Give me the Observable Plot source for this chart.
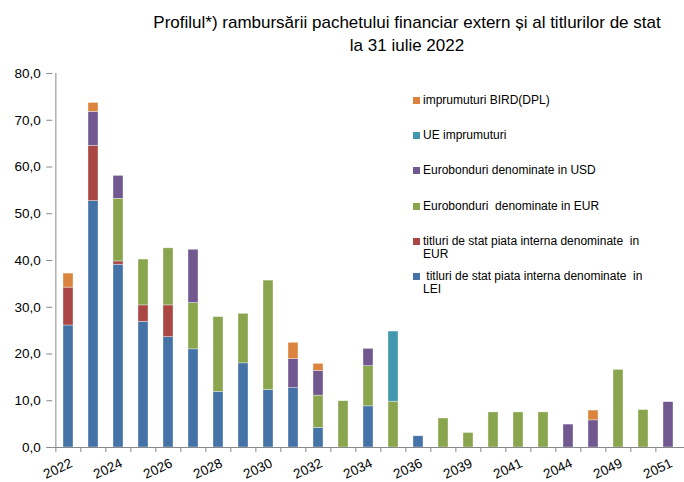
<!DOCTYPE html>
<html>
<head>
<meta charset="utf-8">
<script src="https://cdn.jsdelivr.net/npm/d3@7"></script>
<script src="https://cdn.jsdelivr.net/npm/@observablehq/plot@0.6"></script>
<style>
  body { margin: 0; background: #fff; font-family: "Liberation Sans", Arial, sans-serif; }
  #wrap { position: relative; width: 684px; height: 482px; overflow: hidden; }
  #title { position: absolute; left: 130px; width: 554px; top: 11px; text-align: center; font-size: 17px; line-height: 23px; color: #000; }
  #chart { position: absolute; left: 0; top: 60px; }
  #legend { position: absolute; left: 413px; top: 0; font-size: 12px; color: #000; }
  .item { position: absolute; left: 0; white-space: pre; line-height: 13px; }
  .sw { position: absolute; left: 0; top: 3px; width: 7px; height: 7px; }
  .lbl { position: absolute; left: 10px; top: 0; }
</style>
</head>
<body>
<div id="wrap">
  <div id="title">Profilul*) rambursării pachetului financiar extern și al titlurilor de stat<br>la 31 iulie 2022</div>
  <div id="chart"></div>
  <div id="legend"></div>
</div>
<script>
const years = ["2022","2023","2024","2025","2026","2027","2028","2029","2030","2031","2032","2033","2034","2035","2036","2038","2039","2040","2041","2042","2044","2048","2049","2050","2051"];
const labelYears = ["2022","2024","2026","2028","2030","2032","2034","2036","2039","2041","2044","2049","2051"];
const yTicks = [0,10,20,30,40,50,60,70,80];

const seriesNames = [
  " titluri de stat piata interna denominate  in\nLEI",
  "titluri de stat piata interna denominate  in\nEUR",
  "Eurobonduri  denominate in EUR",
  "Eurobonduri denominate in USD",
  "UE imprumuturi",
  "imprumuturi BIRD(DPL)"
];
const seriesColors = ["#4572A7","#AA4643","#89A54E","#71588F","#4198AF","#DB843D"];

const lei     = [26.1,52.7,39.1,26.9,23.6,21.0,11.9,18.0,12.3,12.7,4.2,0,8.8,0,2.4,0,0,0,0,0,0,0,0,0,0];
const eurDom  = [8.1,11.8,0.7,3.5,6.8,0,0,0,0,0,0,0,0,0,0,0,0,0,0,0,0,0,0,0,0];
const euroEur = [0,0,13.4,9.8,12.2,9.9,16.0,10.6,23.4,0,6.9,9.9,8.6,9.8,0,6.2,3.1,7.5,7.5,7.5,0,0,16.6,8.0,0];
const euroUsd = [0,7.3,4.9,0,0,11.4,0,0,0,6.2,5.3,0,3.7,0,0,0,0,0,0,0,4.9,5.8,0,0,9.7];
const ue      = [0,0,0,0,0,0,0,0,0,0,0,0,0,15.0,0,0,0,0,0,0,0,0,0,0,0];
const bird    = [3.0,1.9,0,0,0,0,0,0,0,3.5,1.5,0,0,0,0,0,0,0,0,0,0,2.1,0,0,0];

const seriesValues = [lei, eurDom, euroEur, euroUsd, ue, bird];
const table = [];
seriesValues.forEach((vals, s) => {
  vals.forEach((v, i) => { if (v > 0) table.push({year: years[i], series: seriesNames[s], value: v}); });
});

const W = 684, H = 422;
const mL = 52.3, mR = 0;
const step = (W - mL - mR) / years.length;
const fmt = d => d.toFixed(1).replace(".", ",");

const chart = Plot.plot({
  width: W,
  height: H,
  marginTop: 13,
  marginBottom: 35,
  marginLeft: mL,
  marginRight: mR,
  style: {fontFamily: "'Liberation Sans', Arial, sans-serif", fontSize: "13px", color: "#000", background: "#fff"},
  x: {domain: years, paddingInner: 0.6, paddingOuter: 0.3, axis: null, label: null},
  y: {domain: [0, 80], axis: null, label: null},
  color: {domain: seriesNames, range: seriesColors},
  marks: [
    Plot.barY(table, {x: "year", y: "value", fill: "series", order: seriesNames, stroke: "#fff", strokeWidth: 0.6, strokeOpacity: 0.6}),
    Plot.ruleY([0], {stroke: "#888", strokeWidth: 1}),
    Plot.ruleX([years[0]], {x: d => d, dx: -step / 2, y1: 0, y2: 80, stroke: "#888", strokeWidth: 1}),
    Plot.axisY({ticks: yTicks, tickFormat: fmt, tickSize: 6, tickPadding: 6, stroke: "#888", fill: "#000", fontSize: 13.5, label: null}),
    Plot.axisX({ticks: years, tickSize: 5, tickFormat: () => "", dx: -step / 2, stroke: "#888", label: null}),
    Plot.text(labelYears, {x: d => d, frameAnchor: "bottom", dy: 15, dx: 3, rotate: -25, textAnchor: "end", lineAnchor: "middle", fontSize: 13.5, fill: "#000"})
  ]
});
document.getElementById("chart").appendChild(chart);

// legend (top to bottom order as in reference)
const legendOrder = [5, 4, 3, 2, 1, 0];
const legendTops = [94, 129, 164, 200, 235, 270];
const legend = document.getElementById("legend");
legendOrder.forEach((s, k) => {
  const item = document.createElement("div");
  item.className = "item";
  item.style.top = legendTops[k] + "px";
  const sw = document.createElement("div");
  sw.className = "sw";
  sw.style.background = seriesColors[s];
  const lbl = document.createElement("div");
  lbl.className = "lbl";
  lbl.textContent = seriesNames[s];
  item.appendChild(sw);
  item.appendChild(lbl);
  legend.appendChild(item);
});
</script>
</body>
</html>
